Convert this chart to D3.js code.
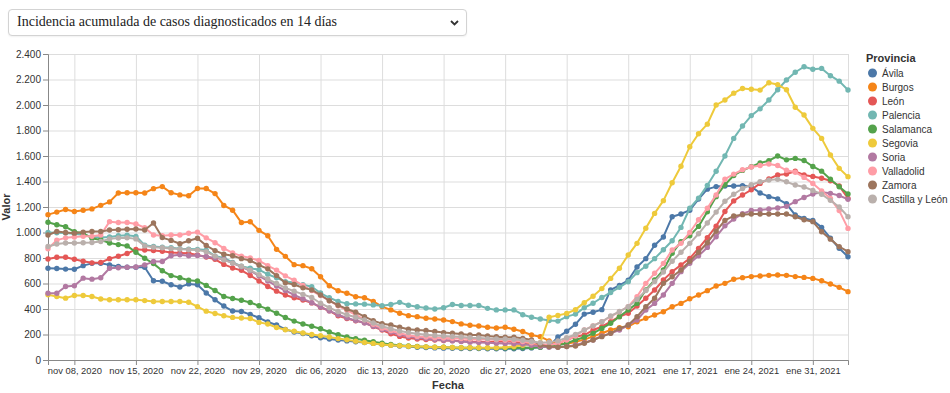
<!DOCTYPE html>
<html>
<head>
<meta charset="utf-8">
<script src="https://cdn.jsdelivr.net/npm/d3@7"></script>
<style>
  body { margin: 0; background: #fff; }
  #selector {
    position: absolute; left: 8px; top: 9px; width: 457px; height: 25px;
    border: 1px solid #d3d3d3; border-radius: 4px; background: #fff;
    box-shadow: 0 1px 2px rgba(0,0,0,0.06);
  }
  #selector span {
    position: absolute; left: 8px; top: 4px;
    font-family: "Liberation Serif", serif; font-size: 14px; color: #222;
  }
  #selector svg { position: absolute; right: 7px; top: 10px; }
  #chart { position: absolute; left: 0; top: 0; }
</style>
</head>
<body>
<div id="selector"><span>Incidencia acumulada de casos diagnosticados en 14 días</span>
  <svg width="9" height="6"><path d="M1,1 L4.5,4.5 L8,1" fill="none" stroke="#333" stroke-width="1.8"/></svg>
</div>
<svg id="chart" width="950" height="393"></svg>
<script>
// daily values, 5 nov 2020 -> 4 feb 2021
var firstDay = "2020-11-05";
var lastDay = "2021-02-04";

var provincias = ["Ávila", "Burgos", "León", "Palencia", "Salamanca", "Segovia", "Soria", "Valladolid", "Zamora", "Castilla y León"];
var colores = ["#4c78a8", "#f58518", "#e45756", "#72b7b2", "#54a24b", "#eeca3b", "#b279a2", "#ff9da6", "#9d755d", "#bab0ac"];

var avila = [720, 718, 713, 712, 740, 758, 758, 746, 733, 728,
  728, 728, 622, 618, 590, 572, 597, 590, 525, 472,
  423, 384, 380, 358, 331, 298, 275, 240, 220, 208,
  190, 175, 164, 156, 150, 143, 137, 130, 122, 115,
  110, 105, 100, 98, 95, 93, 92, 90, 90, 90,
  88, 88, 88, 88, 90, 95, 100, 105, 180, 225,
  280, 360, 375, 395, 550, 585, 625, 730, 795, 900,
  965, 1124, 1145, 1175, 1262, 1340, 1360, 1364, 1365, 1368,
  1360, 1310, 1281, 1264, 1225, 1137, 1111, 1095, 1040, 955,
  876, 810];
var burgos = [1140, 1160, 1180, 1165, 1175, 1185, 1213, 1240, 1310, 1312,
  1312, 1310, 1344, 1360, 1312, 1295, 1288, 1345, 1345, 1305,
  1212, 1175, 1078, 1084, 1017, 975, 868, 813, 748, 740,
  716, 653, 582, 543, 524, 496, 488, 460, 419, 393,
  367, 348, 340, 327, 322, 314, 301, 283, 272, 267,
  257, 251, 257, 241, 223, 196, 183, 150, 125, 128,
  142, 160, 185, 210, 235, 254, 261, 300, 327, 353,
  379, 418, 444, 480, 510, 544, 580, 601, 633, 646,
  654, 659, 664, 667, 664, 654, 648, 640, 622, 596,
  570, 536];
var leon = [792, 806, 806, 790, 775, 762, 765, 795, 814, 835,
  868, 863, 858, 853, 844, 840, 837, 824, 808, 790,
  750, 722, 703, 663, 620, 577, 540, 510, 488, 470,
  448, 414, 386, 347, 326, 307, 294, 262, 235, 205,
  185, 172, 165, 160, 157, 153, 152, 148, 145, 144,
  140, 143, 145, 144, 135, 125, 115, 110, 130, 157,
  183, 196, 235, 261, 301, 340, 366, 423, 484, 549,
  627, 693, 745, 797, 875, 960, 1050, 1165, 1248, 1294,
  1335, 1385, 1420, 1451, 1458, 1480, 1451, 1440, 1425, 1406,
  1365, 1268];
var palencia = [1000, 998, 996, 990, 983, 966, 960, 965, 975, 978,
  970, 900, 890, 885, 880, 872, 870, 868, 862, 815,
  800, 765, 735, 720, 708, 672, 645, 615, 607, 590,
  575, 525, 488, 460, 442, 440, 438, 432, 425, 435,
  452, 430, 418, 408, 400, 410, 435, 427, 427, 427,
  405, 393, 393, 393, 355, 335, 322, 310, 305, 340,
  360, 410, 445, 490, 530, 570, 614, 685, 735, 795,
  865, 935, 1040, 1190, 1270, 1370, 1480, 1600, 1738, 1835,
  1917, 1970, 2039, 2120, 2196, 2257, 2300, 2280, 2287, 2230,
  2187, 2118];
var salamanca = [1080, 1061, 1045, 1007, 994, 955, 942, 918, 905, 895,
  845, 798, 756, 700, 662, 645, 626, 620, 585, 545,
  498, 482, 469, 451, 425, 399, 367, 333, 305, 282,
  265, 245, 220, 198, 180, 167, 155, 143, 132, 122,
  115, 110, 106, 103, 101, 100, 98, 97, 96, 95,
  95, 95, 95, 95, 96, 98, 100, 105, 115, 131,
  157, 178, 209, 248, 288, 340, 392, 444, 549, 627,
  706, 836, 928, 975, 1048, 1163, 1281, 1375, 1447, 1487,
  1516, 1545, 1563, 1600, 1570, 1581, 1565, 1518, 1481, 1418,
  1359, 1302];
var segovia = [511, 498, 485, 506, 506, 498, 479, 472, 472, 472,
  472, 466, 459, 459, 459, 459, 453, 419, 383, 365,
  347, 334, 329, 326, 295, 282, 255, 237, 225, 212,
  200, 190, 180, 168, 158, 148, 138, 130, 122, 116,
  112, 108, 105, 103, 100, 100, 98, 97, 97, 96,
  96, 97, 100, 105, 115, 125, 135, 335, 350, 365,
  395, 450, 500, 560, 640, 720, 823, 915, 1033, 1150,
  1250, 1390, 1520, 1673, 1775, 1850, 2000, 2039, 2093, 2130,
  2123, 2117, 2175, 2160, 2120, 1982, 1921, 1817, 1738, 1608,
  1503, 1438];
var soria = [524, 524, 576, 582, 642, 634, 645, 720, 724, 728,
  730, 746, 772, 772, 818, 826, 818, 820, 812, 800,
  790, 760, 730, 700, 660, 620, 580, 545, 510, 480,
  450, 415, 385, 355, 330, 310, 290, 265, 240, 220,
  200, 185, 175, 168, 160, 155, 150, 145, 140, 138,
  135, 132, 130, 128, 125, 115, 105, 100, 100, 105,
  118, 136, 157, 188, 209, 235, 274, 314, 392, 444,
  510, 601, 693, 758, 817, 883, 967, 1052, 1105, 1148,
  1172, 1176, 1185, 1192, 1205, 1242, 1275, 1302, 1316, 1307,
  1290, 1260];
var valladolid = [872, 940, 958, 965, 970, 970, 980, 1085, 1078, 1078,
  1067, 1037, 980, 975, 980, 980, 994, 1003, 958, 920,
  875, 840, 815, 800, 780, 740, 705, 660, 625, 585,
  545, 505, 465, 425, 390, 355, 315, 280, 250, 230,
  210, 195, 185, 180, 175, 172, 170, 168, 165, 162,
  160, 158, 155, 152, 145, 135, 125, 118, 130, 157,
  188, 235, 267, 301, 340, 379, 418, 497, 601, 680,
  758, 863, 915, 1000, 1100, 1190, 1295, 1418, 1458, 1492,
  1514, 1525, 1537, 1525, 1488, 1473, 1432, 1385, 1326, 1268,
  1172, 1032];
var zamora = [980, 1008, 1000, 995, 1003, 1008, 1008, 1020, 1022, 1025,
  1028, 1020, 1075, 960, 938, 912, 935, 955, 898, 858,
  830, 818, 795, 780, 745, 715, 662, 605, 592, 566,
  550, 510, 465, 430, 400, 375, 340, 309, 285, 275,
  257, 241, 236, 231, 223, 215, 210, 204, 197, 197,
  189, 183, 178, 178, 170, 157, 118, 105, 100, 105,
  110, 131, 157, 183, 209, 248, 274, 340, 418, 484,
  601, 653, 706, 775, 845, 920, 1010, 1095, 1130, 1140,
  1145, 1145, 1145, 1145, 1145, 1124, 1100, 1085, 1006, 948,
  889, 850];
var castillaLeon = [890, 910, 918, 918, 920, 922, 930, 950, 957, 958,
  950, 895, 885, 880, 875, 870, 865, 862, 850, 815,
  785, 760, 735, 705, 670, 635, 600, 565, 540, 515,
  490, 445, 410, 380, 355, 335, 315, 290, 265, 245,
  228, 215, 205, 198, 192, 188, 185, 180, 175, 172,
  168, 165, 165, 162, 155, 145, 135, 140, 150, 175,
  200, 235, 268, 300, 345, 380, 418, 475, 545, 615,
  690, 775, 845, 915, 990, 1075, 1160, 1245, 1300, 1345,
  1375, 1398, 1411, 1417, 1398, 1372, 1357, 1330, 1300, 1252,
  1200, 1124];

var series = [avila, burgos, leon, palencia, salamanca, segovia, soria, valladolid, zamora, castillaLeon];

var margin = {top: 54, left: 48};
var width = 800;
var height = 306;
var sans = "'Liberation Sans', Arial, sans-serif";

var esTime = d3.timeFormatLocale({
  dateTime: "%A, %e de %B de %Y, %X", date: "%d/%m/%Y", time: "%H:%M:%S",
  periods: ["AM", "PM"],
  days: ["domingo", "lunes", "martes", "miércoles", "jueves", "viernes", "sábado"],
  shortDays: ["dom", "lun", "mar", "mié", "jue", "vie", "sáb"],
  months: ["enero", "febrero", "marzo", "abril", "mayo", "junio", "julio", "agosto", "septiembre", "octubre", "noviembre", "diciembre"],
  shortMonths: ["ene", "feb", "mar", "abr", "may", "jun", "jul", "ago", "sep", "oct", "nov", "dic"]
});
var esNum = d3.formatLocale({decimal: ",", thousands: ".", grouping: [3], currency: ["", " €"]});

var parseDay = d3.timeParse("%Y-%m-%d");
var start = parseDay(firstDay), end = parseDay(lastDay);
var dates = d3.timeDay.range(start, d3.timeDay.offset(end, 1));

var svg = d3.select("#chart");
var g = svg.append("g").attr("transform", `translate(${margin.left}, ${margin.top})`);

var x = d3.scaleTime().domain([start, end]).range([0, width]);
var y = d3.scaleLinear().domain([0, 2400]).range([height, 0]);

// grid
g.append("g").selectAll("line")
  .data(y.ticks(12))
  .enter().append("line")
  .attr("x1", 0).attr("x2", width)
  .attr("y1", d => y(d) + 0.5).attr("y2", d => y(d) + 0.5)
  .attr("stroke", "#ddd");

var weekTicks = x.ticks(d3.timeWeek.every(1));
g.append("g").selectAll("line")
  .data(weekTicks)
  .enter().append("line")
  .attr("x1", d => x(d) + 0.5).attr("x2", d => x(d) + 0.5)
  .attr("y1", 0).attr("y2", height)
  .attr("stroke", "#ddd");

g.append("rect")
  .attr("x", 0.5).attr("y", 0.5)
  .attr("width", width).attr("height", height)
  .attr("fill", "none").attr("stroke", "#ddd");

// axes
var bottomAxis = d3.axisBottom(x).tickValues(weekTicks).tickSize(5).tickPadding(2)
  .tickFormat(esTime.format("%b %d, %Y"));
var leftAxis = d3.axisLeft(y).ticks(12).tickSize(5).tickPadding(2)
  .tickFormat(esNum.format(",d"));

var xAxis = g.append("g")
  .attr("transform", `translate(0, ${height})`)
  .call(bottomAxis);
var yAxis = g.append("g").call(leftAxis);

[xAxis, yAxis].forEach(function(a) {
  a.select(".domain").attr("stroke", "#888");
  a.selectAll(".tick line").attr("stroke", "#888");
  a.selectAll("text")
    .attr("fill", "#333")
    .style("font-family", sans)
    .style("font-size", "10px");
});
xAxis.selectAll("text").style("font-size", "9.4px");

g.append("text")
  .attr("x", width / 2).attr("y", height + 29)
  .attr("text-anchor", "middle")
  .style("font-family", sans)
  .style("font-size", "11px").style("font-weight", "bold")
  .attr("fill", "#333")
  .text("Fecha");

g.append("text")
  .attr("transform", `translate(-38, ${height / 2}) rotate(-90)`)
  .attr("text-anchor", "middle")
  .style("font-family", sans)
  .style("font-size", "11px").style("font-weight", "bold")
  .attr("fill", "#333")
  .text("Valor");

// lines and points
var drawLine = d3.line()
  .x((d, i) => x(dates[i]))
  .y(d => y(d));

series.forEach(function(values, k) {
  var s = g.append("g").attr("class", "serie");
  s.append("path")
    .attr("d", drawLine(values))
    .attr("fill", "none")
    .attr("stroke", colores[k])
    .attr("stroke-width", 2)
    .attr("stroke-linejoin", "round");
  s.selectAll("circle")
    .data(values)
    .enter().append("circle")
    .attr("cx", (d, i) => x(dates[i]))
    .attr("cy", d => y(d))
    .attr("r", 2.7)
    .attr("fill", colores[k]);
});

// legend
var legend = svg.append("g").attr("transform", "translate(866, 58)");
legend.append("text")
  .attr("x", 0).attr("y", 4)
  .style("font-family", sans)
  .style("font-size", "11px").style("font-weight", "bold")
  .attr("fill", "#333")
  .text("Provincia");

var item = legend.selectAll(".item")
  .data(provincias)
  .enter().append("g")
  .attr("class", "item")
  .attr("transform", (d, i) => `translate(0, ${15 + i * 14})`);

item.append("circle")
  .attr("cx", 6.5).attr("cy", 0)
  .attr("r", 4.5)
  .attr("fill", (d, i) => colores[i]);

item.append("text")
  .attr("x", 16).attr("y", 3.5)
  .style("font-family", sans)
  .style("font-size", "10px")
  .attr("fill", "#333")
  .text(d => d);
</script>
</body>
</html>
